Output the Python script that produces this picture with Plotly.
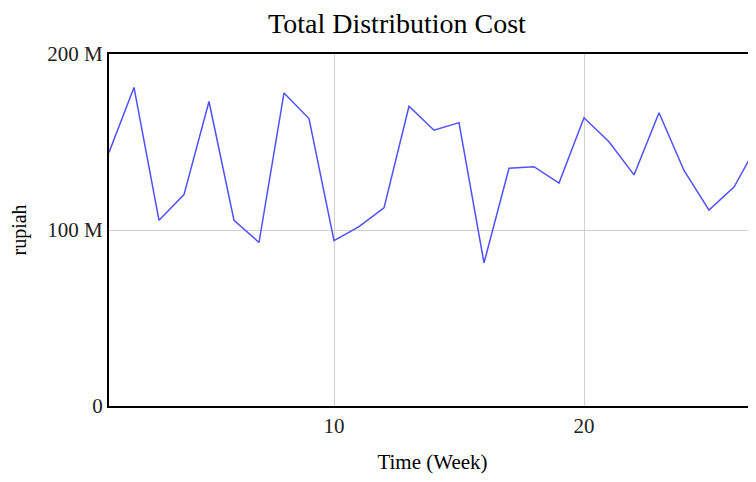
import plotly.graph_objects as go

weeks = list(range(1, 28))
cost_m = [144.1, 181.0, 105.5, 120.1, 173.0, 105.5, 92.9, 177.9, 163.3, 94.0,
          101.9, 112.6, 170.3, 156.7, 161.0, 81.3, 135.1, 136.0, 126.7, 163.8,
          150.1, 131.3, 166.6, 133.8, 111.3, 124.4, 150.0]
y_tickvals = [0, 100, 200]
y_ticktext = ["0", "100 M", "200 M"]
x_tickvals = [10, 20]

serif = "Liberation Serif, Times New Roman, serif"

# page body has an 8px margin, so figure is sized/offset to compensate
W, H = 748, 466

fig = go.Figure(go.Scatter(
    x=weeks, y=cost_m, mode="lines",
    line=dict(color="#5050ff", width=1.5),
    hoverinfo="skip",
))

fig.update_layout(
    width=W, height=H,
    margin=dict(l=101, r=0, t=46, b=64),
    paper_bgcolor="white", plot_bgcolor="white",
    showlegend=False,
    title=dict(text="Total Distribution Cost", x=389 / W, xanchor="center",
               y=1 - 15 / H, yanchor="middle",
               font=dict(family=serif, size=28, color="black")),
    font=dict(family=serif, color="black"),
)
fig.update_xaxes(
    range=[1, 26.88], tickvals=x_tickvals, ticktext=[str(v) for v in x_tickvals],
    showgrid=True, gridcolor="#d0d0d0", gridwidth=1,
    showline=True, linecolor="black", linewidth=2, mirror=True,
    ticks="", tickfont=dict(family=serif, size=21, color="#222"),
    title=dict(text="Time (Week)", font=dict(family=serif, size=21, color="black"), standoff=21),
    zeroline=False,
)
fig.update_yaxes(
    range=[0, 200], tickvals=y_tickvals, ticktext=y_ticktext,
    showgrid=True, gridcolor="#d0d0d0", gridwidth=1,
    showline=True, linecolor="black", linewidth=2, mirror=False,
    ticks="", tickfont=dict(family=serif, size=21, color="#222"),
    title=dict(text="rupiah", font=dict(family=serif, size=20, color="black"), standoff=24),
    zeroline=False,
)

fig.write_html("out.html")
